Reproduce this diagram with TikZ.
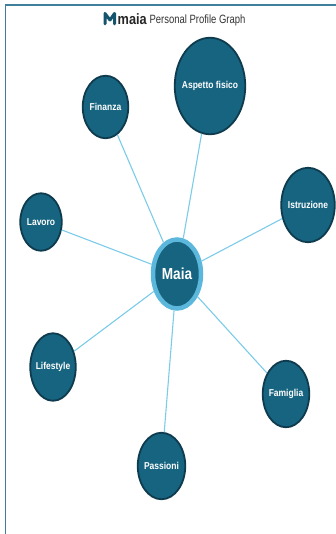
\documentclass[tikz,border=0pt]{standalone}
\usepackage{fontspec}
\setmainfont{Liberation Sans}
\usetikzlibrary{shapes.geometric}
\definecolor{maiablue}{HTML}{176480}
\definecolor{maiadark}{HTML}{0F3B4F}
\definecolor{maiasky}{HTML}{5BB8DC}
\definecolor{maiaedge}{HTML}{7CCBE8}
\definecolor{maiaframe}{HTML}{3F7F9C}
\newcommand{\narrowlabel}[1]{\makebox[0pt]{\scalebox{0.85}[1]{#1}}}
\tikzset{
    topic/.style={ellipse, draw=maiadark, fill=maiablue, line width=1.8pt, inner sep=0pt,
        text=white, font=\bfseries\fontsize{10}{12}\selectfont},
    centre/.style={ellipse, draw=maiasky, fill=maiablue, line width=4.5pt, inner sep=0pt,
        text=white, font=\bfseries\fontsize{16}{18}\selectfont},
    link/.style={maiaedge, line width=1.1pt},
}
\begin{document}
\begin{tikzpicture}[x=1pt,y=-1pt]
    \useasboundingbox (0,0) rectangle (336,534);

    % Cadre
    \coordinate (FA) at (5.5,534);
    \coordinate (FB) at (5.5,5);
    \coordinate (FC) at (336,5);
    \draw[maiaframe, line width=1.3pt] (FA) -- (FB) -- (FC);

    % Titre
    \node[inner sep=0pt, font=\fontsize{12}{14}\selectfont, text=black!80] (titre) at (197.5,20.5)
        {\scalebox{0.79}[1]{Personal Profile Graph}};
    \node[inner sep=0pt, font=\bfseries\fontsize{15}{17}\selectfont, text=black!85, anchor=east] (marque) at (147,19.5)
        {\scalebox{0.85}[1]{maia}};
    \coordinate (LA) at (105,24);
    \coordinate (LB) at (105,13.5);
    \coordinate (LC) at (110,20);
    \coordinate (LD) at (114.5,13.5);
    \coordinate (LE) at (114.5,24);
    \draw[maiablue!85!black, line width=3pt, line cap=round, line join=round] (LA) -- (LB) -- (LC) -- (LD) -- (LE);

    % Noeuds
    \node[centre, minimum width=48pt, minimum height=69pt] (maia) at (177,274) {\narrowlabel{Maia}};
    \node[topic, minimum width=45.5pt, minimum height=62.5pt] (finanza) at (105.5,107) {\narrowlabel{Finanza}};
    \node[topic, minimum width=70.5pt, minimum height=96.5pt] (aspetto) at (210,86) {\narrowlabel{Aspetto fisico}};
    \node[topic, minimum width=53.5pt, minimum height=74.5pt] (istruzione) at (308,205) {\narrowlabel{Istruzione}};
    \node[topic, minimum width=41.5pt, minimum height=57.5pt] (lavoro) at (41,222) {\narrowlabel{Lavoro}};
    \node[topic, minimum width=45.5pt, minimum height=67.5pt] (lifestyle) at (53,367) {\narrowlabel{Lifestyle}};
    \node[topic, minimum width=46.5pt, minimum height=66.5pt] (famiglia) at (286,394) {\narrowlabel{Famiglia}};
    \node[topic, minimum width=47.5pt, minimum height=66.5pt] (passioni) at (161.5,466) {\narrowlabel{Passioni}};

    % Aretes
    \draw[link] (maia) -- (finanza);
    \draw[link] (maia) -- (aspetto);
    \draw[link] (maia) -- (istruzione);
    \draw[link] (maia) -- (lavoro);
    \draw[link] (maia) -- (lifestyle);
    \draw[link] (maia) -- (famiglia);
    \draw[link] (maia) -- (passioni);
\end{tikzpicture}
\end{document}
